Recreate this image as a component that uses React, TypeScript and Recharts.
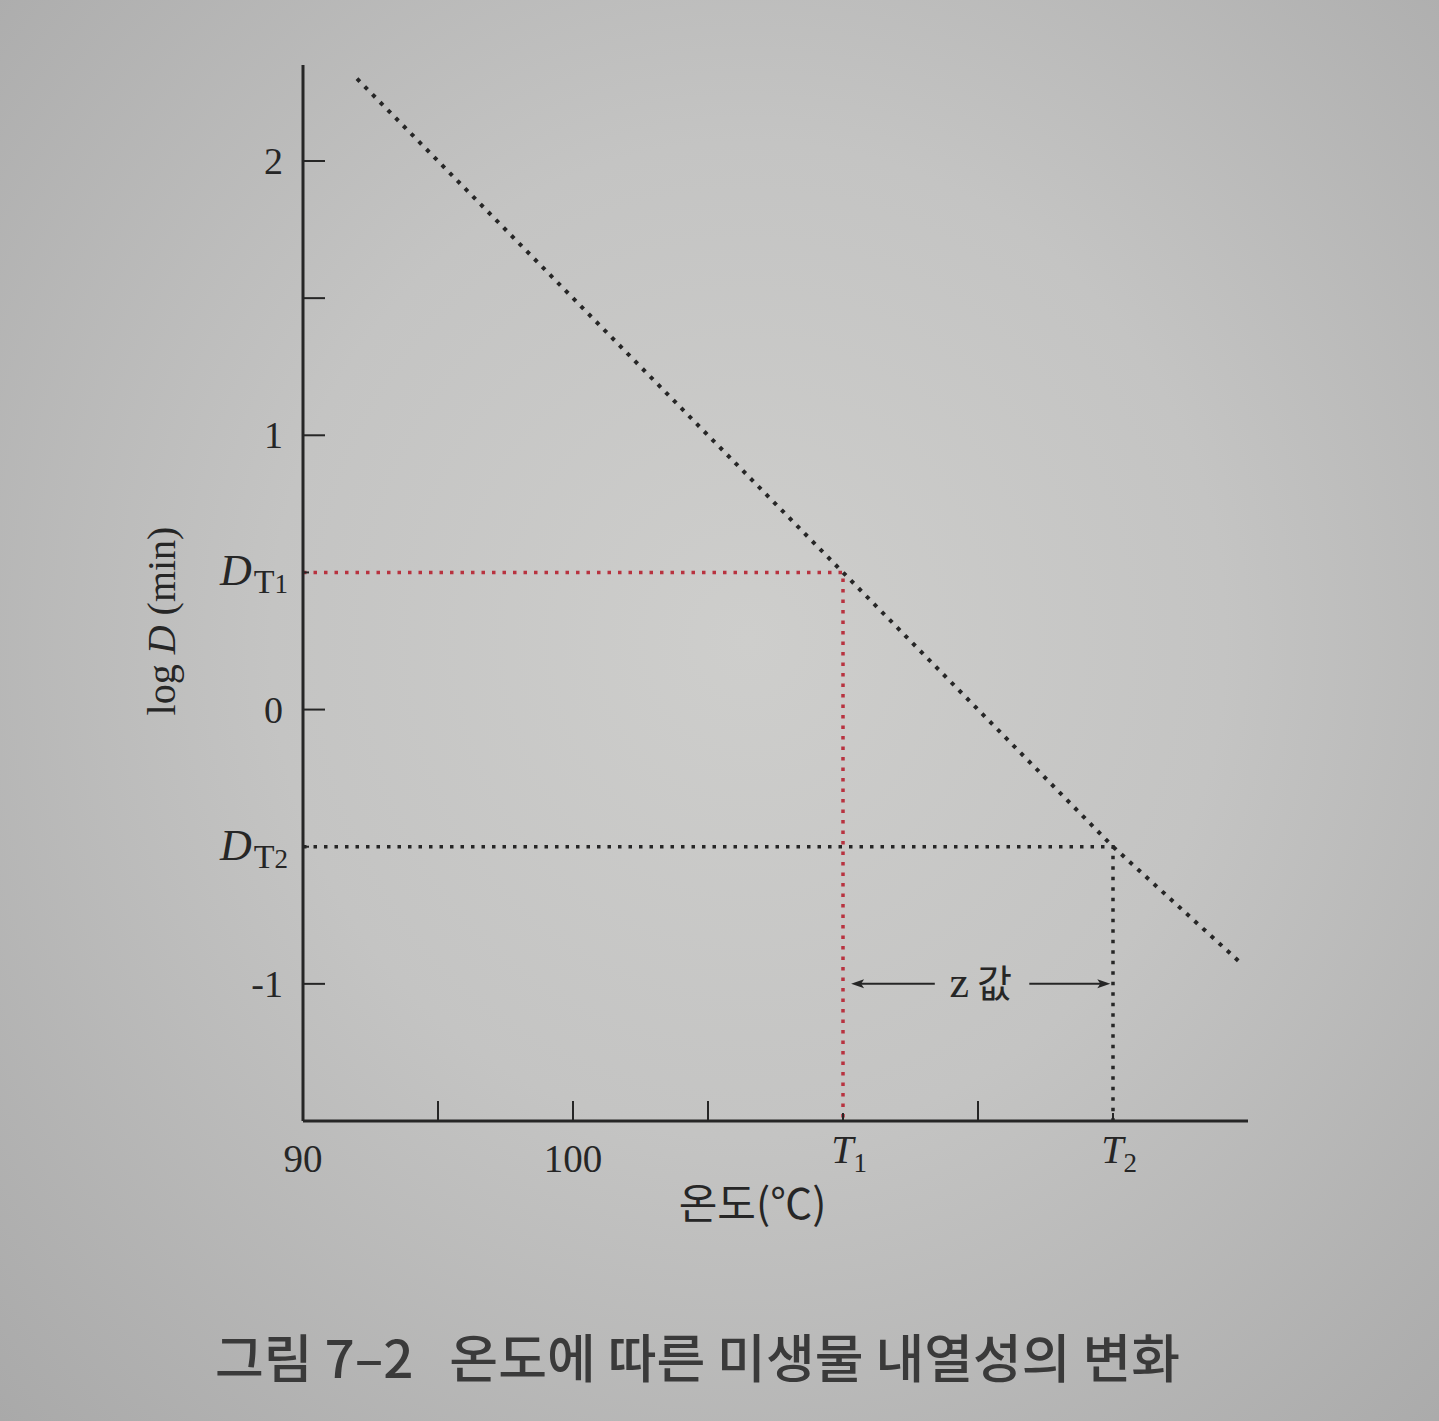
import React from "react";
import {
  LineChart,
  Line,
  XAxis,
  YAxis,
  ReferenceLine,
  ReferenceDot,
} from "recharts";

// temperature (°C) vs log D (min)
const mainTemps = [92, 110, 120, 124.8];
const mainLogD = [2.3, 0.5, -0.5, -0.93];

// D_T1 guide (red): from the y axis to the line, then down to T1
const t1GuideTemps = [90, 110, 110];
const t1GuideLogD = [0.5, 0.5, -1.5];

// D_T2 guide (black): from the y axis to the line, then down to T2
const t2GuideTemps = [90, 120, 120];
const t2GuideLogD = [-0.5, -0.5, -1.5];

const xTicks = [90, 95, 100, 105, 110, 115, 120];
const xTickLabels = ["90", "", "100", "", "T1", "", "T2"];
const yTicks = [-1, -0.5, 0, 0.5, 1, 1.5, 2];
const yTickLabels = ["-1", "DT2", "0", "DT1", "1", "", "2"];

// z value arrows: [from, to] in °C, arrow head at "to"
const zArrowLeft = [113.4, 110.3];
const zArrowRight = [116.9, 119.9];
const zArrowLogD = -1.0;
const zLabelTemp = 115.1;

const toRows = (xs: number[], ys: number[]) => xs.map((t, i) => ({ t, v: ys[i] }));

const INK = "#262626";
const RED = "#b8323f";
const SERIF = "'Liberation Serif', 'DejaVu Serif', serif";
const KR = "'Noto Sans CJK KR', 'Noto Sans', sans-serif";
const X_MARGIN = 20;
const Y_MARGIN = 16;

function XTick(props: any) {
  const { x, y, payload } = props;
  const axisY = y - X_MARGIN;
  const i = xTicks.indexOf(payload.value);
  const label = xTickLabels[i];
  const len = payload.value === 90 ? 0 : label.startsWith("T") ? 8 : 20;
  return (
    <g>
      {len > 0 && <line x1={x} x2={x} y1={axisY} y2={axisY - len} stroke={INK} strokeWidth={2} />}
      {label.startsWith("T") ? (
        <text x={x + 6} y={axisY + 42} textAnchor="middle" fontFamily={SERIF} fontSize={40} fill={INK}>
          <tspan fontStyle="italic">T</tspan>
          <tspan fontSize={27} dy={9}>{label.slice(1)}</tspan>
        </text>
      ) : (
        <text x={x} y={axisY + 51} textAnchor="middle" fontFamily={SERIF} fontSize={39} fill={INK}>
          {label}
        </text>
      )}
    </g>
  );
}

function YTick(props: any) {
  const { x, y, payload } = props;
  const axisX = x + Y_MARGIN;
  const i = yTicks.indexOf(payload.value);
  const label = yTickLabels[i];
  const isD = label.startsWith("D");
  const len = isD ? 6 : 22;
  return (
    <g>
      <line x1={axisX} x2={axisX + len} y1={y} y2={y} stroke={INK} strokeWidth={2} />
      {isD ? (
        <text x={axisX - 15} y={y + 13} textAnchor="end" fontFamily={SERIF} fontSize={44} fill={INK}>
          <tspan fontStyle="italic">D</tspan>
          <tspan fontSize={34} dx={2} dy={8}>T</tspan>
          <tspan fontSize={27}>{label.slice(2)}</tspan>
        </text>
      ) : (
        <text x={axisX - 20} y={y + 13} textAnchor="end" fontFamily={SERIF} fontSize={38} fill={INK}>
          {label}
        </text>
      )}
    </g>
  );
}

function Arrow(props: any) {
  const { x1, y1, x2, y2 } = props;
  const dir = x2 > x1 ? 1 : -1;
  const hl = 13;
  return (
    <g>
      <line x1={x1} y1={y1} x2={x2 - dir * 6} y2={y2} stroke={INK} strokeWidth={2} />
      <path
        d={`M${x2},${y2} L${x2 - dir * hl},${y2 - 4.5} L${x2 - dir * (hl - 3)},${y2} L${x2 - dir * hl},${y2 + 4.5} Z`}
        fill={INK}
      />
    </g>
  );
}

export default function App() {
  return (
    <div
      style={{
        position: "absolute",
        left: 0,
        top: 0,
        width: 1439,
        height: 1421,
        background: "radial-gradient(ellipse at 52% 45%, #cececc 0%, #c4c4c3 45%, #a9a9a9 100%)",
      }}
    >
      <LineChart
        width={1439}
        height={1421}
        margin={{ top: 65, right: 191, left: 183, bottom: 200 }}
      >
        <XAxis
          type="number"
          dataKey="t"
          domain={[90, 125]}
          ticks={xTicks}
          interval={0}
          allowDataOverflow
          height={100}
          tickSize={0}
          tickLine={false}
          tickMargin={X_MARGIN}
          tick={<XTick />}
          axisLine={{ stroke: INK, strokeWidth: 3 }}
          label={{
            content: (p: any) => {
              const vb = p.viewBox;
              return (
                <text
                  x={vb.x + vb.width / 2 - 23}
                  y={vb.y + 98}
                  textAnchor="middle"
                  fontFamily={KR}
                  fontSize={42}
                  fill={INK}
                >
                  온도(℃)
                </text>
              );
            },
          }}
        />
        <YAxis
          type="number"
          dataKey="v"
          domain={[-1.5, 2.35]}
          ticks={yTicks}
          interval={0}
          allowDataOverflow
          width={120}
          tickSize={0}
          tickLine={false}
          tickMargin={Y_MARGIN}
          tick={<YTick />}
          axisLine={{ stroke: INK, strokeWidth: 3 }}
          label={{
            content: (p: any) => {
              const vb = p.viewBox;
              const cx = vb.x - 8;
              const cy = vb.y + vb.height / 2 + 28;
              return (
                <text
                  x={cx}
                  y={cy}
                  transform={`rotate(-90 ${cx} ${cy})`}
                  textAnchor="middle"
                  fontFamily={SERIF}
                  fontSize={40}
                  fill={INK}
                >
                  log <tspan fontStyle="italic">D</tspan> (min)
                </text>
              );
            },
          }}
        />
        <Line
          data={toRows(t2GuideTemps, t2GuideLogD)}
          dataKey="v"
          type="linear"
          stroke={INK}
          strokeWidth={3.5}
          strokeDasharray="3.5 7"
          dot={false}
          activeDot={false}
          isAnimationActive={false}
        />
        <Line
          data={toRows(t1GuideTemps, t1GuideLogD)}
          dataKey="v"
          type="linear"
          stroke={RED}
          strokeWidth={3.5}
          strokeDasharray="3.5 7"
          dot={false}
          activeDot={false}
          isAnimationActive={false}
        />
        <Line
          data={toRows(mainTemps, mainLogD)}
          dataKey="v"
          type="linear"
          stroke={INK}
          strokeWidth={4}
          strokeDasharray="4 7"
          dot={false}
          activeDot={false}
          isAnimationActive={false}
        />
        <ReferenceLine
          segment={[
            { x: zArrowLeft[0], y: zArrowLogD },
            { x: zArrowLeft[1], y: zArrowLogD },
          ]}
          shape={<Arrow />}
        />
        <ReferenceLine
          segment={[
            { x: zArrowRight[0], y: zArrowLogD },
            { x: zArrowRight[1], y: zArrowLogD },
          ]}
          shape={<Arrow />}
        />
        <ReferenceDot
          x={zLabelTemp}
          y={zArrowLogD}
          r={0}
          shape={(p: any) => (
            <text x={p.cx} y={p.cy + 13} textAnchor="middle" fontSize={38} fill={INK}>
              <tspan fontFamily={SERIF} fontSize={44}>z</tspan>
              <tspan fontFamily={KR} dx={8}>값</tspan>
            </text>
          )}
        />
      </LineChart>
      <svg
        width={1439}
        height={110}
        style={{ position: "absolute", left: 0, top: 1300 }}
      >
        <text
          x={215}
          y={78}
          textLength={965}
          lengthAdjust="spacingAndGlyphs"
          xmlSpace="preserve"
          style={{ whiteSpace: "pre" }}
          fontFamily={KR}
          fontWeight={500}
          fontSize={52}
          fill="#3a3a3a"
        >
          {"그림 7–2   온도에 따른 미생물 내열성의 변화"}
        </text>
      </svg>
    </div>
  );
}
